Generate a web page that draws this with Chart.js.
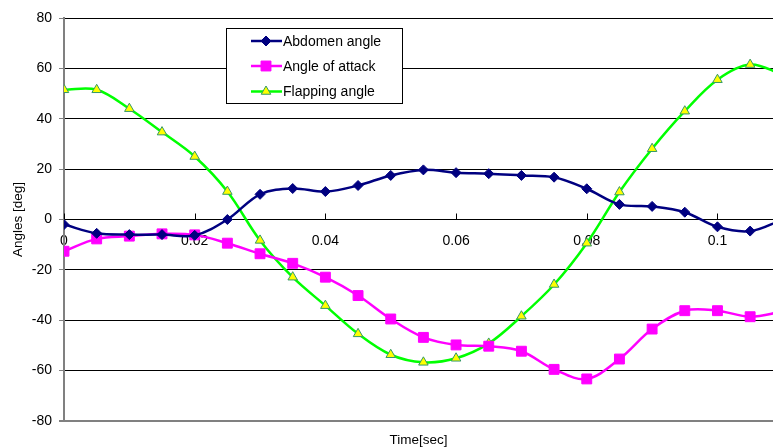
<!DOCTYPE html>
<html>
<head>
<meta charset="utf-8">
<title>Angles vs time</title>
<script src="https://cdn.jsdelivr.net/npm/chart.js@4.4.1/dist/chart.umd.min.js"></script>
<style>
  html, body { margin: 0; padding: 0; background: #ffffff; }
</style>
</head>
<body>
<canvas id="angle-chart" width="773" height="448"></canvas>
<script>
// Time steps (sec)
const times = [0, 0.005, 0.01, 0.015, 0.02, 0.025, 0.03, 0.035, 0.04, 0.045, 0.05, 0.055,
               0.06, 0.065, 0.07, 0.075, 0.08, 0.085, 0.09, 0.095, 0.1, 0.105, 0.11];

// Series values (deg)
const abdomenAngle = [-2, -5.5, -6, -6, -6.3, 0, 10, 12.3, 11.1, 13.5, 17.5, 19.7,
                      18.6, 18.2, 17.5, 16.8, 12.2, 6, 5.2, 2.9, -2.9, -4.6, 0];
const angleOfAttack = [-12.6, -7.7, -6.6, -5.7, -6.1, -9.4, -13.6, -17.4, -22.9, -30.2, -39.5, -46.8,
                       -49.8, -50.3, -52.3, -59.5, -63.3, -55.4, -43.5, -36.2, -36.2, -38.6, -36.5];
const flappingAngle = [51.5, 51.5, 44, 34.7, 25, 11.1, -8.3, -22.9, -34.2, -45.4, -53.7, -56.7,
                       -55.1, -49.2, -38.4, -25.8, -9.4, 10.9, 28.1, 43, 55.5, 61.5, 57.5];

// Tick labels
const xTicks = [0, 0.02, 0.04, 0.06, 0.08, 0.1];
const xTickLabels = ['0', '0.02', '0.04', '0.06', '0.08', '0.1'];

const FONT = "'Liberation Sans', Arial, sans-serif";
Chart.defaults.font.family = FONT;
Chart.defaults.color = '#000000';

function toPoints(values) {
    return times.map((t, i) => ({ x: t, y: values[i] }));
}

// no side padding on the horizontal axes, so the plot runs to the right edge
function flatSides(s) {
    s.paddingLeft = 0;
    s.paddingRight = 0;
}

// Legend drawn inside the plot, like the original
const boxLegend = {
    id: 'boxLegend',
    afterDraw(chart) {
        const ctx = chart.ctx;
        ctx.save();
        ctx.fillStyle = '#ffffff';
        ctx.fillRect(226, 28, 176, 75);
        ctx.strokeStyle = '#000000';
        ctx.lineWidth = 1;
        ctx.strokeRect(226.5, 28.5, 176, 75);

        const rows = [41, 66, 91.5];
        chart.data.datasets.forEach((ds, i) => {
            const y = rows[i];
            ctx.strokeStyle = ds.borderColor;
            ctx.lineWidth = 2.5;
            ctx.beginPath();
            ctx.moveTo(251, y);
            ctx.lineTo(282, y);
            ctx.stroke();

            ctx.fillStyle = ds.pointBackgroundColor;
            ctx.strokeStyle = ds.pointBorderColor;
            ctx.lineWidth = 1;
            Chart.helpers.drawPoint(ctx, {
                pointStyle: ds.pointStyle,
                radius: ds.pointRadius,
                rotation: 0,
                borderWidth: 1
            }, 266, y);

            ctx.fillStyle = '#000000';
            ctx.font = '14px ' + FONT;
            ctx.textBaseline = 'middle';
            ctx.textAlign = 'left';
            ctx.fillText(ds.label, 283, y + 1);
        });
        ctx.restore();
    }
};

// Small tick marks pointing up from the zero line
const upTicks = {
    id: 'upTicks',
    afterDatasetsDraw(chart) {
        const ctx = chart.ctx;
        const xs = chart.scales.x;
        const y0 = chart.scales.y.getPixelForValue(0);
        ctx.save();
        ctx.strokeStyle = '#000000';
        ctx.lineWidth = 1;
        xTicks.forEach(v => {
            const px = Math.round(xs.getPixelForValue(v)) + 0.5;
            ctx.beginPath();
            ctx.moveTo(px, y0);
            ctx.lineTo(px, y0 - 6);
            ctx.stroke();
        });
        ctx.restore();
    }
};

const ctx = document.getElementById('angle-chart').getContext('2d');
const angleChart = new Chart(ctx, {
    type: 'line',
    data: {
        datasets: [
            {
                label: 'Abdomen angle',
                data: toPoints(abdomenAngle),
                borderColor: '#000080',
                borderWidth: 2.5,
                pointStyle: 'rectRot',
                pointRadius: 5,
                pointBackgroundColor: '#000080',
                pointBorderColor: '#000080',
                pointBorderWidth: 1,
                tension: 0.35
            },
            {
                label: 'Angle of attack',
                data: toPoints(angleOfAttack),
                borderColor: '#ff00ff',
                borderWidth: 2.5,
                pointStyle: 'rect',
                pointRadius: 7,
                pointBackgroundColor: '#ff00ff',
                pointBorderColor: '#ff00ff',
                pointBorderWidth: 1,
                tension: 0.35
            },
            {
                label: 'Flapping angle',
                data: toPoints(flappingAngle),
                borderColor: '#00ff00',
                borderWidth: 2.5,
                pointStyle: 'triangle',
                pointRadius: 5.5,
                pointBackgroundColor: '#ffff00',
                pointBorderColor: '#339966',
                pointBorderWidth: 1,
                tension: 0.35
            }
        ]
    },
    options: {
        responsive: false,
        animation: false,
        layout: { autoPadding: false, padding: { top: 18, right: 0, left: 0, bottom: 0 } },
        plugins: {
            legend: { display: false },
            tooltip: { enabled: false }
        },
        scales: {
            x: {
                type: 'linear',
                min: 0,
                max: 0.1085,
                position: { y: 0 },
                afterBuildTicks: s => { s.ticks = xTicks.map(v => ({ value: v })); },
                afterFit: s => { s.height = 0; flatSides(s); },
                ticks: {
                    font: { size: 14 },
                    padding: 13,
                    maxRotation: 0,
                    callback: (v, i) => xTickLabels[i]
                },
                grid: { display: false, drawTicks: false },
                border: { display: true, color: '#000000', width: 1 }
            },
            x2: {
                type: 'linear',
                min: 0,
                max: 0.1085,
                position: 'bottom',
                afterFit: s => { s.height = 27; flatSides(s); },
                ticks: { display: false },
                grid: { display: false, drawTicks: false },
                border: { display: false },
                title: { display: true, text: 'Time[sec]', font: { size: 13.5 }, padding: 0 }
            },
            y: {
                min: -80,
                max: 80,
                afterFit: s => { s.width = 64; },
                ticks: { stepSize: 20, font: { size: 14 }, padding: 7 },
                grid: {
                    color: c => (c.tick && c.tick.value === -80) ? '#808080' : '#000000',
                    lineWidth: c => (c.tick && c.tick.value === -80) ? 2 : 1,
                    tickColor: '#808080',
                    tickLength: 5
                },
                border: { display: true, color: '#808080', width: 2 },
                title: { display: true, text: 'Angles [deg]', font: { size: 13.5 }, padding: { top: 10, bottom: 0 } }
            }
        }
    },
    plugins: [upTicks, boxLegend]
});
</script>
</body>
</html>
